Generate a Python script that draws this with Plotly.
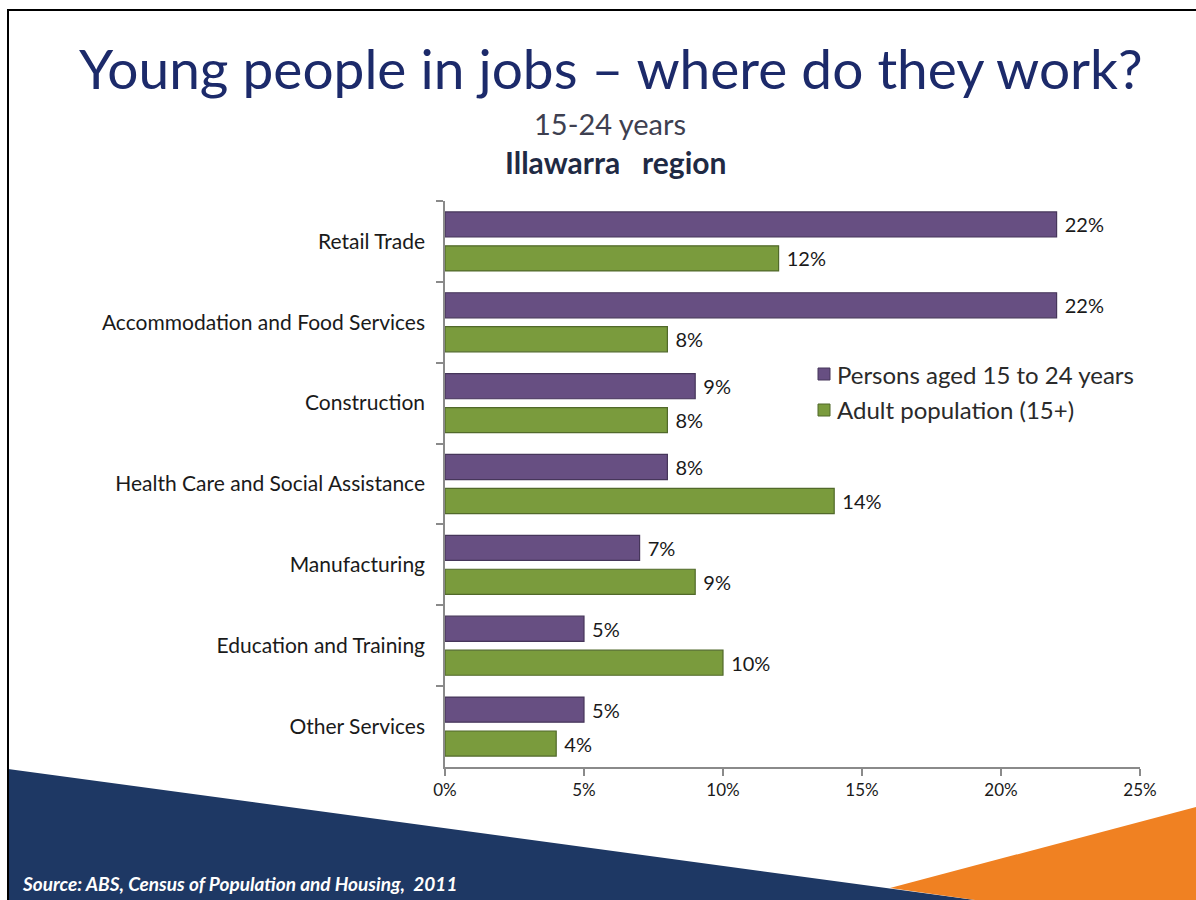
import plotly.graph_objects as go

# Industry categories (top to bottom) and share of employed persons (%)
industries = [
    "Retail Trade",
    "Accommodation and Food Services",
    "Construction",
    "Health Care and Social Assistance",
    "Manufacturing",
    "Education and Training",
    "Other Services",
]
young_pct = [22, 22, 9, 8, 7, 5, 5]
adult_pct = [12, 8, 8, 14, 9, 10, 4]
x_ticks = [0, 5, 10, 15, 20, 25]
x_tick_labels = ["0%", "5%", "10%", "15%", "20%", "25%"]

series_names = ["Persons aged 15 to 24 years", "Adult population (15+)"]
series_colors = ["#674F82", "#7A9B3D"]
series_edges = ["#46365A", "#51692A"]

W, H = 1196, 900


def px(x):
    return x / W


def py(y):
    return 1 - y / H


FONT = "Lato"
LABEL_FONT = dict(family=FONT, size=20, color="#1a1a1a")

fig = go.Figure()
for name, vals, col, edge in zip(series_names, [young_pct, adult_pct],
                                 series_colors, series_edges):
    fig.add_trace(go.Bar(
        y=industries, x=vals, orientation="h", name=name,
        marker=dict(color=col, line=dict(color=edge, width=1.2)),
        text=[f" {v}%" for v in vals], texttemplate="%{text}",
        textposition="outside", textfont=LABEL_FONT,
        cliponaxis=False, showlegend=False,
    ))

shapes = [
    # navy band along the bottom left
    dict(type="path", xref="paper", yref="paper", layer="below",
         path=f"M {px(8)},{py(769)} L {px(975)},{py(900)} L {px(8)},{py(900)} Z",
         fillcolor="#1E3864", line=dict(width=0)),
    # orange wedge bottom right
    dict(type="path", xref="paper", yref="paper", layer="below",
         path=(f"M {px(890)},{py(888)} L {px(1196)},{py(807)} "
               f"L {px(1196)},{py(900)} L {px(975)},{py(900)} Z"),
         fillcolor="#F08122", line=dict(width=0)),
    # slide frame (left and top edges)
    dict(type="line", xref="paper", yref="paper",
         x0=px(8), x1=px(8), y0=py(9), y1=py(900), line=dict(color="black", width=2)),
    dict(type="line", xref="paper", yref="paper",
         x0=px(8), x1=px(1196), y0=py(10), y1=py(10), line=dict(color="black", width=2)),
]

annotations = [
    dict(text="Young people in jobs \u2013 where do they work?", x=px(611), y=py(68),
         xref="paper", yref="paper", showarrow=False, xanchor="center", yanchor="middle",
         font=dict(family=FONT, size=55, color="#1C2A6A")),
    dict(text="15-24 years", x=px(610), y=py(123),
         xref="paper", yref="paper", showarrow=False, xanchor="center", yanchor="middle",
         font=dict(family=FONT, size=29, color="#3E4050")),
    dict(text="<b>Illawarra   region</b>", x=px(615), y=py(162),
         xref="paper", yref="paper", showarrow=False, xanchor="center", yanchor="middle",
         font=dict(family=FONT, size=30, color="#1F2A44")),
    dict(text="<b><i>Source: ABS, Census of Population and Housing,  2011</i></b>",
         x=px(20), y=py(883), xref="paper", yref="paper", showarrow=False,
         xanchor="left", yanchor="middle",
         font=dict(family=FONT, size=19, color="white")),
]

# legend drawn as colour swatches with text beside them
legend_rows = [374, 410]
for name, col, edge, yc in zip(series_names, series_colors, series_edges, legend_rows):
    shapes.append(dict(type="rect", xref="paper", yref="paper",
                       x0=px(818), x1=px(830), y0=py(yc + 6), y1=py(yc - 6),
                       fillcolor=col, line=dict(color=edge, width=1)))
    annotations.append(dict(text=name, x=px(835), y=py(yc), xref="paper", yref="paper",
                            showarrow=False, xanchor="left", yanchor="middle",
                            font=dict(family=FONT, size=24, color="#2a2a2a")))

fig.update_layout(
    width=W, height=H,
    margin=dict(l=0, r=0, t=0, b=0),
    paper_bgcolor="white", plot_bgcolor="white",
    barmode="group", bargap=0.16, bargroupgap=0.26,
    font=dict(family=FONT, color="#1a1a1a"),
    showlegend=False,
    shapes=shapes,
    annotations=annotations,
)

fig.update_xaxes(
    domain=[px(445), px(1140)],
    range=[0, 25], tickvals=x_ticks, ticktext=x_tick_labels,
    showgrid=False, zeroline=False,
    showline=True, linecolor="#8a8a8a", linewidth=1.5,
    ticks="outside", ticklen=7, tickcolor="#8a8a8a", tickwidth=1.5,
    tickfont=dict(family=FONT, size=17, color="#1a1a1a"),
    automargin=False,
)
fig.update_yaxes(
    domain=[py(767), py(201)],
    categoryorder="array", categoryarray=industries, autorange="reversed",
    showgrid=False, zeroline=False,
    showline=True, linecolor="#8a8a8a", linewidth=1.5,
    ticks="outside", ticklen=7, tickcolor="#8a8a8a", tickwidth=1.5,
    tickson="boundaries", ticklabelstandoff=14,
    tickfont=dict(family=FONT, size=21, color="#1a1a1a"),
    automargin=False,
)

fig.write_html("out.html")
